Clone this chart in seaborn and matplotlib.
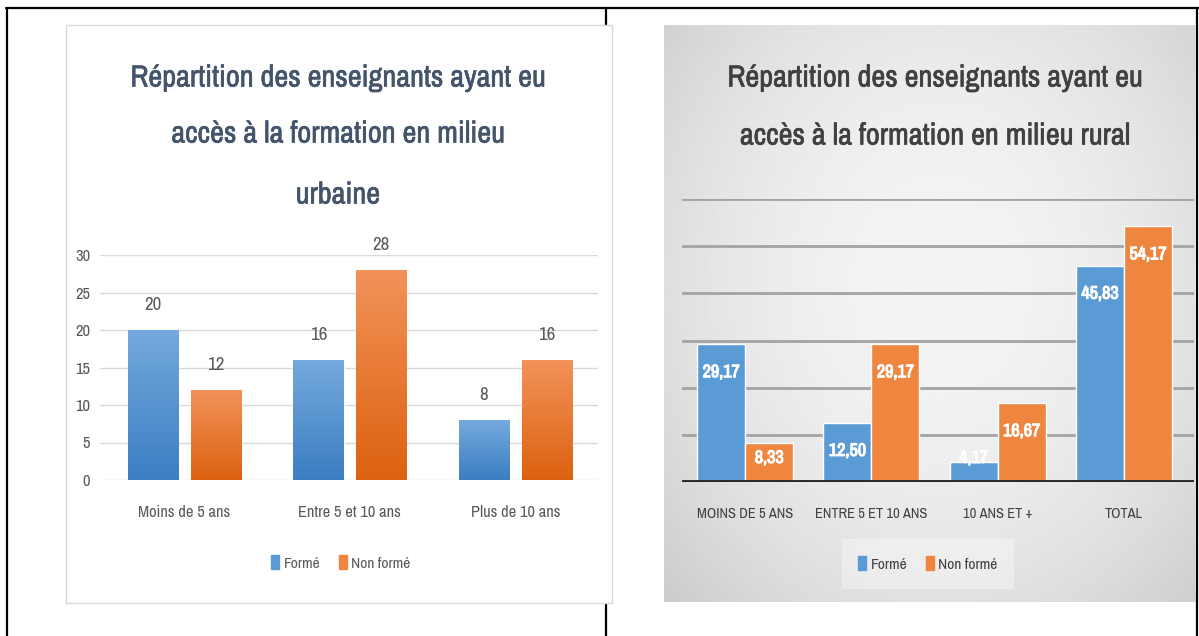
import numpy as np
import pandas as pd
import matplotlib
matplotlib.use("Agg")
import matplotlib.pyplot as plt
import matplotlib.patheffects as pe
import seaborn as sns
from matplotlib.lines import Line2D
from matplotlib.patches import Rectangle, Patch
from matplotlib.colors import LinearSegmentedColormap
from matplotlib import font_manager

# -----------------------------
# Data
# -----------------------------
statuts = ["Formé", "Non formé"]

urb_cats = ["Moins de 5 ans", "Entre 5 et 10 ans", "Plus de 10 ans"]
urb_forme = [20, 16, 8]
urb_non_forme = [12, 28, 16]

rur_cats = ["MOINS DE 5 ANS", "ENTRE 5 ET 10 ANS", "10 ANS ET +", "TOTAL"]
rur_forme = [29.17, 12.50, 4.17, 45.83]
rur_non_forme = [8.33, 29.17, 16.67, 54.17]

title_urb = ["Répartition des enseignants ayant eu", "accès à la formation en milieu", "urbaine"]
title_rur = ["Répartition des enseignants ayant eu", "accès à la formation en milieu rural"]

BLUE, ORANGE = "#5B9BD5", "#EE8640"

# -----------------------------
# Style / fonts (prefer a narrow face, Calibri-like)
# -----------------------------
sns.set_theme(style="white")
names = {f.name for f in font_manager.fontManager.ttflist}
narrow = sorted(n for n in names if "Narrow" in n or "Condensed" in n)
font = narrow[0] if narrow else next((f for f in ["Lato", "Open Sans", "Roboto"] if f in names), "DejaVu Sans")
plt.rcParams["font.family"] = [font, "DejaVu Sans"]

W, H = 1199, 636
fig = plt.figure(figsize=(W / 100, H / 100), dpi=100)
renderer = fig.canvas.get_renderer()


def box(x0, y0, x1, y1):
    # pixel box (top-left origin) -> figure rect
    return [x0 / W, 1 - y1 / H, (x1 - x0) / W, (y1 - y0) / H]


def fx(x):
    return x / W


def fy(y):
    return 1 - y / H


def size_for(s, px, weight="normal"):
    # font size giving a text of about px pixels wide
    t = fig.text(0, 0, s, fontsize=10, fontweight=weight)
    w = t.get_window_extent(renderer).width
    t.remove()
    return 10 * px / w


fs_title = size_for(title_urb[0], 418)
fs_tick_u = size_for(urb_cats[0], 92)
fs_tick_r = size_for(rur_cats[0], 96)
fs_leg = size_for(statuts[1], 59)
fs_val_u = size_for("28", 17)
fs_val_r = size_for("29,17", 37, "bold")
fs_ytick = size_for("30", 15)

# table frame lines
for xs, ys in [((6, 1199), (8, 8)), ((7, 7), (8, 636)), ((606, 606), (8, 636)), ((1197, 1197), (8, 636))]:
    fig.add_artist(Line2D([fx(x) for x in xs], [fy(y) for y in ys], color="black", lw=1.6, zorder=-3))

# left panel (white card)
fig.add_artist(Rectangle((fx(66), fy(603)), (612 - 66) / W, (603 - 25) / H, transform=fig.transFigure,
                         facecolor="white", edgecolor="#D9D9D9", lw=1, zorder=-2))

# right panel (grey radial gradient)
bg = fig.add_axes(box(664, 25, 1195, 602), zorder=-1)
yy, xx = np.mgrid[0:1:200j, 0:1:300j]
d = ((xx - 0.52) / 0.62) ** 2 + ((yy - 0.45) / 0.7) ** 2
bg.imshow(np.clip(0.955 - 0.12 * d, 0, 1), cmap="gray", vmin=0, vmax=1, aspect="auto", extent=(0, 1, 0, 1))
bg.axis("off")


def gradient_fill(ax, bars, top, bottom):
    cmap = LinearSegmentedColormap.from_list("g", [bottom, top])
    for b in bars:
        x, y, w, h = b.get_x(), b.get_y(), b.get_width(), b.get_height()
        im = ax.imshow(np.linspace(0, 1, 64).reshape(-1, 1), cmap=cmap, aspect="auto",
                       extent=(x, x + w, y, y + h), origin="lower", zorder=b.get_zorder() + 0.1)
        im.set_clip_path(b)


# -----------------------------
# Left chart : milieu urbain
# -----------------------------
df_urb = pd.DataFrame({
    "Tranche": urb_cats * 2,
    "Statut": [statuts[0]] * len(urb_cats) + [statuts[1]] * len(urb_cats),
    "Valeur": urb_forme + urb_non_forme,
})
ax1 = fig.add_axes(box(100, 255, 598, 480))
sns.barplot(data=df_urb, x="Tranche", y="Valeur", hue="Statut", palette=[BLUE, ORANGE],
            width=0.76, gap=0.2, saturation=1, legend=False, ax=ax1)
gradient_fill(ax1, ax1.containers[0], "#74A9DD", "#3B7EC2")
gradient_fill(ax1, ax1.containers[1], "#F29259", "#DC6210")
ax1.set_xlim(-0.51, 2.5)
ax1.set_ylim(0, 30)
ax1.set_yticks(range(0, 31, 5))
ax1.yaxis.grid(True, color="#D9D9D9", lw=1)
ax1.set_axisbelow(True)
ax1.set_facecolor("none")
sns.despine(ax=ax1, left=True, bottom=True)
ax1.tick_params(axis="y", length=0, pad=7, labelsize=fs_ytick, labelcolor="#595959")
ax1.tick_params(axis="x", length=0, pad=18, labelsize=fs_tick_u, labelcolor="#595959")
ax1.set_xlabel("")
ax1.set_ylabel("")
for cont, vals in zip(ax1.containers, [urb_forme, urb_non_forme]):
    ax1.bar_label(cont, labels=[str(v) for v in vals], padding=12, fontsize=fs_val_u, color="#595959")

thick_u = [pe.withStroke(linewidth=0.45, foreground="#44546A")]
for line, y in zip(title_urb, [78, 134, 195]):
    fig.text(fx(338), fy(y), line, ha="center", va="center", fontsize=fs_title, color="#44546A",
             path_effects=thick_u)
fig.legend(handles=[Patch(color=BLUE), Patch(color=ORANGE)], labels=statuts, loc="center",
           bbox_to_anchor=(fx(341), fy(563)), ncol=2, frameon=False, handlelength=0.5, handleheight=1.0,
           handletextpad=0.3, columnspacing=1.2, fontsize=fs_leg, labelcolor="#595959")

# -----------------------------
# Right chart : milieu rural
# -----------------------------
df_rur = pd.DataFrame({
    "Tranche": rur_cats * 2,
    "Statut": [statuts[0]] * len(rur_cats) + [statuts[1]] * len(rur_cats),
    "Valeur": rur_forme + rur_non_forme,
})
ax2 = fig.add_axes(box(682, 199, 1194, 482))
sns.barplot(data=df_rur, x="Tranche", y="Valeur", hue="Statut", palette=[BLUE, ORANGE],
            width=0.76, gap=0, saturation=1, legend=False, ax=ax2)
ax2.set_xlim(-0.5, 3.555)
ax2.set_ylim(0, 60)
ax2.set_yticks(range(0, 61, 10))
ax2.set_yticklabels([])
ax2.yaxis.grid(True, color="#A3A3A3", lw=2)
ax2.set_axisbelow(True)
ax2.axhline(0, color="#262626", lw=3.5, zorder=5)
ax2.set_facecolor("none")
sns.despine(ax=ax2, left=True, bottom=True)
ax2.tick_params(axis="both", length=0)
ax2.tick_params(axis="x", pad=18, labelsize=fs_tick_r, labelcolor="#404040")
ax2.set_xlabel("")
ax2.set_ylabel("")
bold_w = [pe.withStroke(linewidth=0.8, foreground="white")]
for cont, vals in zip(ax2.containers, [rur_forme, rur_non_forme]):
    for b, v in zip(cont, vals):
        ax2.text(b.get_x() + b.get_width() / 2, max(v - 5.9, 5.1), f"{v:.2f}".replace(".", ","),
                 ha="center", va="center", fontsize=fs_val_r, fontweight="bold", color="white",
                 zorder=6, path_effects=bold_w)

thick_r = [pe.withStroke(linewidth=0.45, foreground="#404040")]
for line, y in zip(title_rur, [78, 136]):
    fig.text(fx(935), fy(y), line, ha="center", va="center", fontsize=fs_title, color="#404040",
             path_effects=thick_r)
leg2 = fig.legend(handles=[Patch(color=BLUE), Patch(color=ORANGE)], labels=statuts, loc="center",
                  bbox_to_anchor=(fx(928), fy(564)), ncol=2, frameon=True, handlelength=0.5,
                  handleheight=1.0, handletextpad=0.3, columnspacing=1.2, fontsize=fs_leg,
                  labelcolor="#404040", borderpad=1.1, fancybox=False, framealpha=0.35)
leg2.get_frame().set_facecolor("white")
leg2.get_frame().set_edgecolor("none")

fig.savefig("out.png", dpi=100)
